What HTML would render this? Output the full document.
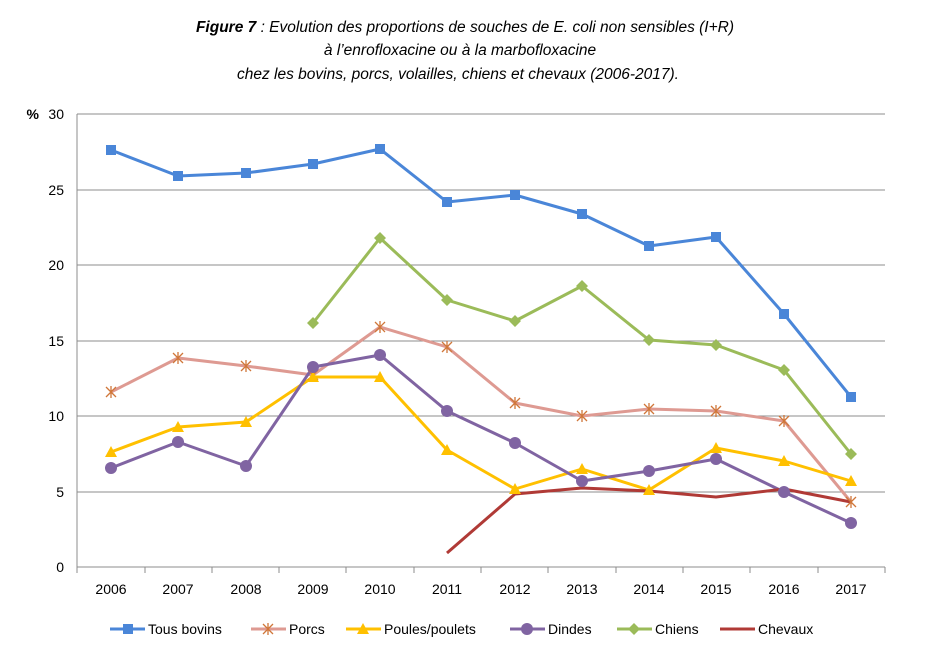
<!DOCTYPE html>
<html><head><meta charset="utf-8"><style>
body{margin:0;background:#fff;}
svg{display:block;font-family:"Liberation Sans",Calibri,sans-serif;}
</style></head><body>
<svg width="930" height="663" viewBox="0 0 930 663" xmlns="http://www.w3.org/2000/svg">
<rect width="930" height="663" fill="#fff"/>
<g font-style="italic" font-size="15.5" text-anchor="middle" fill="#000">
<text x="465" y="32"><tspan font-weight="bold">Figure 7</tspan> : Evolution des proportions de souches de E. coli non sensibles (I+R)</text>
<text x="460" y="55">à l’enrofloxacine ou à la marbofloxacine</text>
<text x="458" y="79">chez les bovins, porcs, volailles, chiens et chevaux (2006-2017).</text>
</g>
<g stroke="#8c8c8c" stroke-width="1">
<line x1="77" y1="114" x2="885" y2="114"/>
<line x1="77" y1="190" x2="885" y2="190"/>
<line x1="77" y1="265" x2="885" y2="265"/>
<line x1="77" y1="341" x2="885" y2="341"/>
<line x1="77" y1="416" x2="885" y2="416"/>
<line x1="77" y1="492" x2="885" y2="492"/>
<line x1="77" y1="567" x2="885" y2="567"/>
<line x1="77" y1="114" x2="77" y2="567"/>
</g>
<g stroke="#8c8c8c"><line x1="77" y1="567" x2="77" y2="573"/><line x1="145" y1="567" x2="145" y2="573"/><line x1="212" y1="567" x2="212" y2="573"/><line x1="279" y1="567" x2="279" y2="573"/><line x1="346" y1="567" x2="346" y2="573"/><line x1="414" y1="567" x2="414" y2="573"/><line x1="481" y1="567" x2="481" y2="573"/><line x1="548" y1="567" x2="548" y2="573"/><line x1="616" y1="567" x2="616" y2="573"/><line x1="683" y1="567" x2="683" y2="573"/><line x1="750" y1="567" x2="750" y2="573"/><line x1="818" y1="567" x2="818" y2="573"/><line x1="885" y1="567" x2="885" y2="573"/></g>
<g font-size="14" text-anchor="end" fill="#000">
<text x="64" y="119">30</text><text x="64" y="195">25</text><text x="64" y="270">20</text><text x="64" y="346">15</text><text x="64" y="421">10</text><text x="64" y="497">5</text><text x="64" y="572">0</text>
<text x="39" y="119" font-weight="bold">%</text>
</g>
<g font-size="14" text-anchor="middle" fill="#000">
<text x="111" y="594">2006</text><text x="178" y="594">2007</text><text x="246" y="594">2008</text><text x="313" y="594">2009</text><text x="380" y="594">2010</text><text x="447" y="594">2011</text><text x="515" y="594">2012</text><text x="582" y="594">2013</text><text x="649" y="594">2014</text><text x="716" y="594">2015</text><text x="784" y="594">2016</text><text x="851" y="594">2017</text>
</g>
<g fill="none" stroke-width="3" stroke-linejoin="round">
<polyline stroke="#4a86d8" points="111,150 178,176 246,173 313,164 380,149 447,202 515,195 582,214 649,246 716,237 784,314 851,397"/>
<polyline stroke="#de9a92" points="111,392 178,358 246,366 313,375 380,327 447,347 515,403 582,416 649,409 716,411 784,421 851,502"/>
<polyline stroke="#ffc000" points="111,452 178,427 246,422 313,377 380,377 447,450 515,489 582,469 649,490 716,448 784,461 851,481"/>
<polyline stroke="#8064a2" points="111,468 178,442 246,466 313,367 380,355 447,411 515,443 582,481 649,471 716,459 784,492 851,523"/>
<polyline stroke="#9bbb59" points="313,323 380,238 447,300 515,321 582,286 649,340 716,345 784,370 851,454"/>
<polyline stroke="#b03a36" points="447,553 515,494 582,488 649,491 716,497 784,489 851,502"/>
</g>
<g fill="#4a86d8"><rect x="106" y="145" width="10" height="10"/><rect x="173" y="171" width="10" height="10"/><rect x="241" y="168" width="10" height="10"/><rect x="308" y="159" width="10" height="10"/><rect x="375" y="144" width="10" height="10"/><rect x="442" y="197" width="10" height="10"/><rect x="510" y="190" width="10" height="10"/><rect x="577" y="209" width="10" height="10"/><rect x="644" y="241" width="10" height="10"/><rect x="711" y="232" width="10" height="10"/><rect x="779" y="309" width="10" height="10"/><rect x="846" y="392" width="10" height="10"/></g>
<g stroke="#d0773a" stroke-width="1.3">
<path d="M106,387l10,10M116,387l-10,10M111,386v12 M173,353l10,10M183,353l-10,10M178,352v12 M241,361l10,10M251,361l-10,10M246,360v12 M308,370l10,10M318,370l-10,10M313,369v12 M375,322l10,10M385,322l-10,10M380,321v12 M442,342l10,10M452,342l-10,10M447,341v12 M510,398l10,10M520,398l-10,10M515,397v12 M577,411l10,10M587,411l-10,10M582,410v12 M644,404l10,10M654,404l-10,10M649,403v12 M711,406l10,10M721,406l-10,10M716,405v12 M779,416l10,10M789,416l-10,10M784,415v12 M846,497l10,10M856,497l-10,10M851,496v12"/>
</g>
<g fill="#ffc000">
<path d="M111,446l6,11h-12z M178,421l6,11h-12z M246,416l6,11h-12z M313,371l6,11h-12z M380,371l6,11h-12z M447,444l6,11h-12z M515,483l6,11h-12z M582,463l6,11h-12z M649,484l6,11h-12z M716,442l6,11h-12z M784,455l6,11h-12z M851,475l6,11h-12z"/>
</g>
<g fill="#8064a2"><circle cx="111" cy="468" r="6"/><circle cx="178" cy="442" r="6"/><circle cx="246" cy="466" r="6"/><circle cx="313" cy="367" r="6"/><circle cx="380" cy="355" r="6"/><circle cx="447" cy="411" r="6"/><circle cx="515" cy="443" r="6"/><circle cx="582" cy="481" r="6"/><circle cx="649" cy="471" r="6"/><circle cx="716" cy="459" r="6"/><circle cx="784" cy="492" r="6"/><circle cx="851" cy="523" r="6"/></g>
<g fill="#9bbb59"><path d="M313,317l6,6-6,6-6-6z M380,232l6,6-6,6-6-6z M447,294l6,6-6,6-6-6z M515,315l6,6-6,6-6-6z M582,280l6,6-6,6-6-6z M649,334l6,6-6,6-6-6z M716,339l6,6-6,6-6-6z M784,364l6,6-6,6-6-6z M851,448l6,6-6,6-6-6z"/></g>
<g font-size="14" fill="#000">
<line x1="110" y1="629" x2="145" y2="629" stroke="#4a86d8" stroke-width="3"/><rect x="123" y="624" width="10" height="10" fill="#4a86d8"/><text x="148" y="634">Tous bovins</text>
<line x1="251" y1="629" x2="286" y2="629" stroke="#de9a92" stroke-width="3"/><path d="M263,624l10,10M273,624l-10,10M268,623v12" stroke="#d0773a" stroke-width="1.3"/><text x="289" y="634">Porcs</text>
<line x1="346" y1="629" x2="381" y2="629" stroke="#ffc000" stroke-width="3"/><path d="M363,623l6,11h-12z" fill="#ffc000"/><text x="384" y="634">Poules/poulets</text>
<line x1="510" y1="629" x2="545" y2="629" stroke="#8064a2" stroke-width="3"/><circle cx="527" cy="629" r="6" fill="#8064a2"/><text x="548" y="634">Dindes</text>
<line x1="617" y1="629" x2="652" y2="629" stroke="#9bbb59" stroke-width="3"/><path d="M634,623l6,6-6,6-6-6z" fill="#9bbb59"/><text x="655" y="634">Chiens</text>
<line x1="720" y1="629" x2="755" y2="629" stroke="#b03a36" stroke-width="3"/><text x="758" y="634">Chevaux</text>
</g>
</svg>
</body></html>
